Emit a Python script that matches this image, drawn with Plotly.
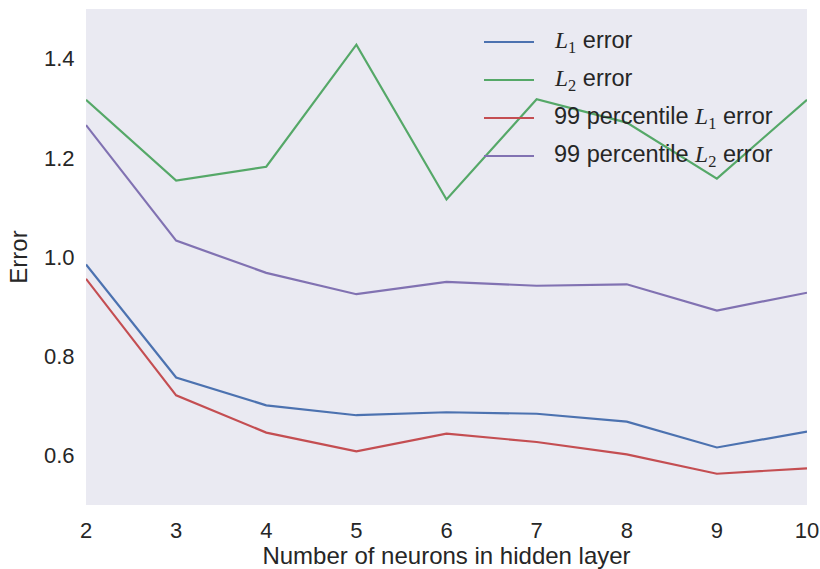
import plotly.graph_objects as go

# Hidden-layer sizes and the error measured for each
neurons = [2, 3, 4, 5, 6, 7, 8, 9, 10]
l1_error = [0.985, 0.757, 0.701, 0.681, 0.687, 0.684, 0.668, 0.616, 0.648]
l2_error = [1.317, 1.154, 1.182, 1.428, 1.116, 1.318, 1.271, 1.158, 1.317]
p99_l1_error = [0.956, 0.721, 0.646, 0.608, 0.644, 0.627, 0.602, 0.563, 0.574]
p99_l2_error = [1.266, 1.033, 0.968, 0.925, 0.950, 0.942, 0.945, 0.892, 0.928]

x_ticks = [2, 3, 4, 5, 6, 7, 8, 9, 10]
y_ticks = [0.6, 0.8, 1.0, 1.2, 1.4]

L1 = '<span style="font-family:Liberation Serif"><i>L</i><sub>1</sub></span>'
L2 = '<span style="font-family:Liberation Serif"><i>L</i><sub>2</sub></span>'

series = [
    (f"{L1} error", l1_error, "#4C72B0"),
    (f"{L2} error", l2_error, "#55A868"),
    (f"99 percentile {L1} error", p99_l1_error, "#C44E52"),
    (f"99 percentile {L2} error", p99_l2_error, "#8172B2"),
]

TEXT = "#262626"
FONT = "Liberation Sans, Arial, sans-serif"

fig = go.Figure()
for name, vals, color in series:
    fig.add_trace(go.Scatter(
        x=neurons, y=vals, mode="lines", name=name,
        line=dict(color=color, width=2.2), showlegend=False,
    ))

# Hand-built legend in the upper right of the axes
W, H = 820, 569
ml, mr, mt, mb = 86, 13, 9, 64
pw, ph = W - ml - mr, H - mt - mb


def px2paper(px, py):
    return (px - ml) / pw, (H - mb - py) / ph


row_y = [42, 80, 118, 156]
for (name, vals, color), py in zip(series, row_y):
    x0, yy = px2paper(484, py)
    x1, _ = px2paper(534, py)
    fig.add_shape(type="line", xref="paper", yref="paper",
                  x0=x0, x1=x1, y0=yy, y1=yy,
                  line=dict(color=color, width=2.2))
    tx, _ = px2paper(552, py)
    fig.add_annotation(xref="paper", yref="paper", x=tx, y=yy,
                       text=name, showarrow=False, xanchor="left",
                       yanchor="middle", font=dict(size=23.5, color=TEXT, family=FONT))

fig.update_layout(
    width=W, height=H,
    margin=dict(l=ml, r=mr, t=mt, b=mb),
    paper_bgcolor="white",
    plot_bgcolor="#EAEAF2",
    font=dict(family=FONT, size=22, color=TEXT),
)
fig.update_xaxes(
    range=[2, 10], tickvals=x_ticks, ticktext=[str(v) for v in x_ticks],
    showgrid=False, zeroline=False, showline=False, automargin=False,
    ticks="outside", ticklen=6, tickcolor="rgba(0,0,0,0)",
    tickfont=dict(size=22, color=TEXT),
    title=dict(text="Number of neurons in hidden layer", standoff=9,
               font=dict(size=24, color=TEXT)),
)
fig.update_yaxes(
    range=[0.5, 1.5], tickvals=y_ticks, ticktext=[f"{v:.1f}" for v in y_ticks],
    showgrid=False, zeroline=False, showline=False, automargin=False,
    ticks="outside", ticklen=6, tickcolor="rgba(0,0,0,0)",
    tickfont=dict(size=22, color=TEXT),
    title=dict(text="Error", standoff=9, font=dict(size=24, color=TEXT)),
)

fig.write_html("out.html")
